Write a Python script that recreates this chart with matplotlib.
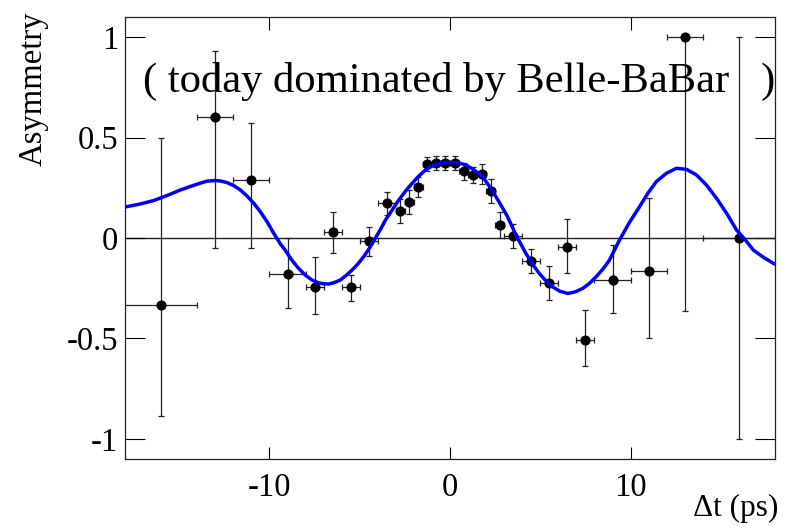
import matplotlib
matplotlib.use('Agg')
import matplotlib.pyplot as plt

plt.rcParams['font.family'] = ['Liberation Serif', 'DejaVu Serif']

# measured points (asymmetric errors)
dt = [-16, -13, -11, -9, -7.5, -6.5, -5.5, -4.5, -3.5, -2.75, -2.25, -1.75, -1.25,
      -0.75, -0.25, 0.25, 0.75, 1.25, 1.75, 2.25, 2.75, 3.5, 4.5, 5.5, 6.5, 7.5,
      9, 11, 13, 16]
asym = [-0.334, 0.60, 0.288, -0.181, -0.243, 0.028, -0.243, -0.015, 0.173, 0.136,
        0.181, 0.256, 0.367, 0.372, 0.372, 0.372, 0.331, 0.314, 0.318, 0.232,
        0.065, 0.009, -0.115, -0.223, -0.043, -0.508, -0.209, -0.165, 1.0, 0.0]
dt_err = [2, 1, 1, 1, 0.5, 0.5, 0.5, 0.5, 0.5, 0.25, 0.25, 0.25, 0.25, 0.25, 0.25,
          0.25, 0.25, 0.25, 0.25, 0.25, 0.25, 0.5, 0.5, 0.5, 0.5, 0.5, 1, 1, 1, 2]
err_down = [0.553, 0.65, 0.34, 0.166, 0.137, 0.104, 0.071, 0.075, 0.058, 0.06,
            0.06, 0.05, 0.035, 0.035, 0.035, 0.035, 0.04, 0.04, 0.05, 0.06, 0.066,
            0.058, 0.06, 0.085, 0.133, 0.13, 0.163, 0.332, 1.364, 1.0]
err_up = [0.834, 0.33, 0.285, 0.18, 0.15, 0.10, 0.06, 0.07, 0.058, 0.057, 0.06,
          0.05, 0.035, 0.035, 0.035, 0.035, 0.04, 0.04, 0.05, 0.06, 0.066, 0.062,
          0.06, 0.085, 0.136, 0.152, 0.174, 0.365, 0.0, 1.0]

# fit curve
fit_x = [-18.0, -17.9, -17.17, -16.43, -15.68, -14.94, -14.3, -13.83, -13.46, -13.0,
         -12.72, -12.35, -11.98, -11.61, -11.24, -10.87, -10.5, -10.13, -9.76,
         -9.39, -9.13, -8.76, -8.39, -8.02, -7.65, -7.28, -7.0, -6.72, -6.44,
         -6.07, -5.8, -5.43, -5.11, -4.78, -4.46, -4.13, -3.85, -3.57, -3.2,
         -2.83, -2.46, -2.09, -1.72, -1.35, -0.98, -0.61, -0.24, 0.13, 0.41, 0.87,
         1.33, 1.8, 2.17, 2.54, 2.87, 3.19, 3.65, 3.93, 4.2, 4.57, 4.94, 5.31,
         5.69, 6.06, 6.52, 6.94, 7.35, 7.72, 8.09, 8.46, 8.83, 9.11, 9.39, 9.94,
         10.5, 10.96, 11.43, 11.98, 12.54, 13.09, 13.65, 14.2, 14.76, 15.32,
         15.87, 16.43, 16.8, 17.36, 17.91, 18.0]
fit_y = [0.155, 0.156, 0.169, 0.186, 0.211, 0.239, 0.259, 0.273, 0.283, 0.286,
         0.284, 0.276, 0.261, 0.239, 0.209, 0.173, 0.13, 0.081, 0.023,
         -0.03, -0.06, -0.11, -0.151, -0.184, -0.209, -0.223, -0.228, -0.229, -0.223,
         -0.209, -0.19, -0.16, -0.13, -0.093, -0.05, 0.0, 0.043, 0.09, 0.14,
         0.189, 0.234, 0.273, 0.309, 0.339, 0.359, 0.372, 0.377, 0.375, 0.375, 0.364,
         0.339, 0.306, 0.259, 0.206, 0.156, 0.106, 0.015, -0.031, -0.076, -0.13,
         -0.176, -0.213, -0.243, -0.264, -0.276, -0.268, -0.251, -0.226, -0.193,
         -0.156, -0.11, -0.06, -0.01, 0.078, 0.156, 0.223, 0.281, 0.322, 0.347,
         0.342, 0.314, 0.264, 0.198, 0.123, 0.04, -0.018, -0.06, -0.096, -0.126, -0.13]

fig = plt.figure(figsize=(7.92, 5.30), dpi=100)
ax = fig.add_axes([125 / 792, 1 - 459 / 530, 650 / 792, 442 / 530])

ax.axhline(0, color='#222222', lw=1.0, zorder=1)
ax.errorbar(dt, asym, xerr=dt_err, yerr=[err_down, err_up], fmt='o', color='black',
            ecolor='#222222', elinewidth=0.9, capsize=2, capthick=0.9,
            markersize=6.3, zorder=3)
ax.plot(fit_x, fit_y, color='#0000ff', lw=2.5, zorder=4,
        solid_joinstyle='round', solid_capstyle='round')

ax.set_xlim(-18, 18)
ax.set_ylim(-1.1, 1.1)
ax.set_xticks([-10, 0, 10])
ax.set_yticks([-1, -0.5, 0, 0.5, 1])
ax.set_yticklabels(['-1', '-0.5', '0', '0.5', '1'])
ax.set_xticklabels(['-10', '0', '10'])
ax.tick_params(axis='x', direction='in', length=9, width=0.8, top=True,
               labelsize=23.5, pad=10)
ax.tick_params(axis='y', direction='in', length=14.5, width=0.8, right=True,
               labelsize=23.5, pad=5)
for s in ax.spines.values():
    s.set_linewidth(0.9)
    s.set_color('#222222')

ax.text(143 / 792, 1 - 92 / 530, '( today dominated by Belle-BaBar   )',
        transform=fig.transFigure, fontsize=30.7, ha='left', va='baseline')
fig.text(33 / 792, 1 - 12 / 530, 'Asymmetry', rotation=90, ha='center', va='top',
         fontsize=23.5)
fig.text(778 / 792, 1 - 516 / 530, 'Δt (ps)', ha='right', va='baseline',
         fontsize=22.5)

fig.savefig('out.png', dpi=100)
